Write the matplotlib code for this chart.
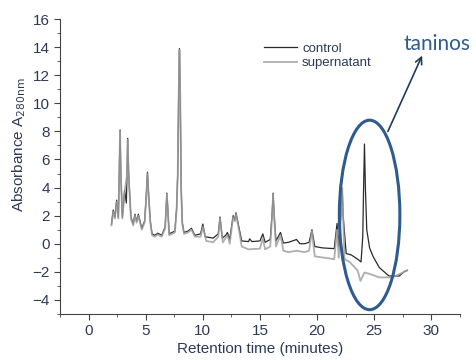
import matplotlib
matplotlib.use('Agg')
import matplotlib.pyplot as plt
from matplotlib.patches import Ellipse
from matplotlib.ticker import MultipleLocator

# (tempo de retencao [min], absorbancia)
control = [(2.0, 1.4), (2.15, 2.4), (2.3, 1.9), (2.45, 3.1), (2.6, 1.9), (2.68, 5.0),
           (2.75, 8.1), (2.82, 5.0), (2.95, 1.9), (3.15, 3.8), (3.3, 2.9), (3.36, 5.0),
           (3.42, 7.5), (3.5, 5.0), (3.7, 1.9), (3.9, 1.4), (4.05, 2.1), (4.2, 1.6),
           (4.35, 2.1), (4.65, 1.1), (4.9, 1.6), (5.05, 3.5), (5.15, 5.1), (5.25, 3.5),
           (5.4, 1.6), (5.55, 0.7), (5.8, 0.6), (6.05, 0.75), (6.4, 0.6), (6.7, 1.2),
           (6.78, 2.5), (6.85, 3.6), (6.93, 2.5), (7.05, 0.7), (7.55, 0.9), (7.7, 2.5),
           (7.8, 5.0), (7.88, 10.5), (7.95, 13.9), (8.02, 10.5), (8.1, 4.0), (8.2, 1.5),
           (8.35, 0.8), (8.7, 0.9), (9.0, 1.1), (9.3, 0.6), (9.8, 0.7), (10.0, 1.4),
           (10.2, 0.5), (10.9, 0.4), (11.35, 0.7), (11.5, 1.9), (11.7, 0.4), (12.0, 0.6),
           (12.15, 0.8), (12.35, 0.3), (12.65, 2.0), (12.8, 1.7), (12.9, 2.2), (13.2, 1.0),
           (13.4, 0.2), (14.0, 0.15), (14.1, 0.35), (14.3, 0.15), (15.0, 0.2), (15.25, 0.7),
           (15.45, 0.1), (15.9, 0.3), (16.07, 2.2), (16.15, 3.6), (16.23, 2.2), (16.4, 0.2),
           (16.8, 0.8), (17.05, 0.05), (17.5, 0.1), (18.2, 0.3), (18.5, 0.0), (18.9, 0.0),
           (19.3, 0.1), (19.55, 1.0), (19.8, -0.2), (20.5, -0.3), (21.5, -0.35),
           (21.75, 1.45), (21.9, -0.2), (22.12, 2.5), (22.2, 3.9), (22.28, 2.0),
           (22.55, -0.7), (23.0, -0.8), (23.55, -1.1), (23.85, -1.3), (24.0, 0.5),
           (24.07, 3.8), (24.15, 7.1), (24.23, 4.0), (24.35, 1.0), (24.6, -0.3),
           (24.9, -0.9), (25.45, -1.7), (26.3, -2.3), (27.2, -2.3), (27.6, -2.0),
           (27.9, -1.9)]

supernatant = [(2.0, 1.3), (2.15, 2.3), (2.3, 1.8), (2.45, 3.0), (2.6, 1.8), (2.68, 4.9),
               (2.75, 8.0), (2.82, 4.9), (2.95, 1.8), (3.15, 3.7), (3.36, 4.9),
               (3.42, 7.4), (3.5, 4.9), (3.7, 1.8), (3.9, 1.3), (4.05, 2.0), (4.2, 1.5),
               (4.35, 2.0), (4.65, 1.0), (4.9, 1.5), (5.05, 3.4), (5.15, 5.0), (5.25, 3.4),
               (5.4, 1.5), (5.55, 0.6), (5.8, 0.5), (6.05, 0.65), (6.4, 0.5), (6.7, 1.1),
               (6.78, 2.4), (6.85, 3.5), (6.93, 2.4), (7.05, 0.6), (7.55, 0.8), (7.7, 2.4),
               (7.8, 4.9), (7.88, 10.4), (7.95, 13.8), (8.02, 10.4), (8.1, 3.9), (8.2, 1.4),
               (8.35, 0.7), (8.7, 0.8), (9.0, 1.0), (9.3, 0.5), (9.8, 0.5), (10.0, 1.2),
               (10.3, 0.2), (10.9, 0.1), (11.35, 0.5), (11.5, 1.8), (11.75, 0.1),
               (12.15, 0.6), (12.35, 0.0), (12.65, 1.9), (12.8, 1.6), (12.9, 2.1),
               (13.2, 0.8), (13.4, -0.2), (14.0, -0.4), (15.0, -0.35), (15.25, 0.4),
               (15.45, -0.4), (15.9, -0.2), (16.07, 2.1), (16.15, 3.5), (16.23, 2.1),
               (16.4, -0.2), (16.8, 0.6), (17.05, -0.5), (17.5, -0.6), (18.2, -0.5),
               (18.9, -0.6), (19.3, -0.5), (19.55, 0.9), (19.8, -0.9), (21.5, -1.1),
               (21.75, 1.0), (21.9, -1.0), (22.12, 2.6), (22.2, 4.0), (22.28, 2.0),
               (22.4, -1.1), (22.85, -1.3), (23.55, -1.9), (23.8, -2.65), (24.15, -2.05),
               (24.6, -2.15), (25.45, -2.4), (26.6, -2.4), (27.9, -1.9)]

t_c, y_c = zip(*control)
t_s, y_s = zip(*supernatant)

txt = '#2d3a55'
azul = '#2f5b8f'
plt.rcParams['font.family'] = ['Liberation Sans', 'DejaVu Sans']

fig = plt.figure(figsize=(4.77, 3.6), dpi=100)
ax = fig.add_axes([0.126, 0.128, 0.838, 0.819])

ax.plot(t_c, y_c, color='#2a2a2a', lw=0.9, label='control', zorder=2)
ax.plot(t_s, y_s, color='#a0a0a0', lw=1.3, alpha=0.85, label='supernatant', zorder=3)

ax.set_xlim(-2.5, 32.5)
ax.set_ylim(-5, 16)
ax.xaxis.set_minor_locator(MultipleLocator(2.5))
ax.yaxis.set_minor_locator(MultipleLocator(1))
ax.set_xticks(range(0, 31, 5))
ax.set_yticks(range(-4, 17, 2))
for s in ['top', 'right']:
    ax.spines[s].set_visible(False)
for s in ['left', 'bottom']:
    ax.spines[s].set_color('#444444')
ax.tick_params(which='major', length=4, color='#444444', labelsize=11, labelcolor=txt)
ax.tick_params(which='minor', length=2.5, color='#444444')

ax.set_xlabel('Retention time (minutes)', fontsize=11, color=txt)
ax.set_ylabel(r'Absorbance A$_{280\mathrm{nm}}$', fontsize=11, color=txt)
ax.xaxis.set_label_coords(0.5, -0.095)
ax.yaxis.set_label_coords(-0.08, 0.575)

ax.legend(loc='upper left', bbox_to_anchor=(0.48, 0.96), frameon=False,
          fontsize=9.5, handlelength=2.5, handletextpad=0.4, labelspacing=0.15, labelcolor=txt)

ax.add_patch(Ellipse((24.6, 2.05), 5.3, 13.5, fill=False, edgecolor=azul, lw=2.2, zorder=4))
ax.annotate('', xy=(29.2, 13.4), xytext=(26.2, 8.0),
            arrowprops=dict(arrowstyle='->', color='#1f3b5c', lw=1.2, mutation_scale=12,
                            shrinkA=0, shrinkB=0),
            annotation_clip=False)
ax.text(30.5, 14.2, 'taninos', fontsize=15, color=azul, family=['Lato', 'DejaVu Sans'],
        ha='center', va='center', clip_on=False)

fig.savefig('out.png', dpi=100)
